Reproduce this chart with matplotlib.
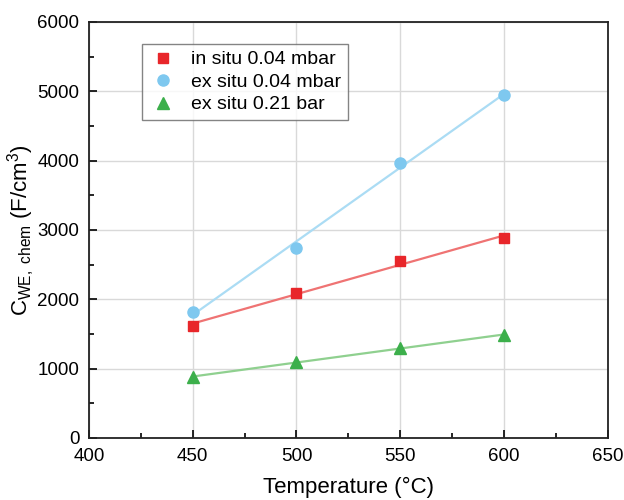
import numpy as np
import matplotlib
matplotlib.use("Agg")
import matplotlib.pyplot as plt
from matplotlib.ticker import MultipleLocator

plt.rcParams['font.family'] = ['Liberation Sans', 'DejaVu Sans']
plt.rcParams['mathtext.fontset'] = 'custom'
plt.rcParams['mathtext.rm'] = 'Liberation Sans'
plt.rcParams['mathtext.it'] = 'Liberation Sans'

temperature = [450, 500, 550, 600]
in_situ_004 = [1620, 2095, 2550, 2880]
ex_situ_004 = [1820, 2735, 3970, 4950]
ex_situ_021 = [885, 1090, 1295, 1490]
labels = ["in situ 0.04 mbar", "ex situ 0.04 mbar", "ex situ 0.21 bar"]

series = [
    (in_situ_004, 's', '#e8262a', '#ef7373', 7),
    (ex_situ_004, 'o', '#7ec8ef', '#abdcf4', 8),
    (ex_situ_021, '^', '#3caf4b', '#8fd08f', 8.5),
]

fig = plt.figure(figsize=(6.24, 5.0), dpi=100)
ax = fig.add_axes([0.1426, 0.124, 0.8314, 0.832])

x = np.array(temperature, dtype=float)
for (vals, mk, mc, lc, ms), lab in zip(series, labels):
    y = np.array(vals, dtype=float)
    p = np.polyfit(x, y, 1)
    ax.plot(x, np.polyval(p, x), color=lc, lw=1.6, zorder=2)
    ax.plot(x, y, linestyle='none', marker=mk, color=mc, ms=ms, mec=mc, label=lab, zorder=3)

ax.set_xlim(400, 650)
ax.set_ylim(0, 6000)
ax.xaxis.set_major_locator(MultipleLocator(50))
ax.xaxis.set_minor_locator(MultipleLocator(25))
ax.yaxis.set_major_locator(MultipleLocator(1000))
ax.yaxis.set_minor_locator(MultipleLocator(500))
ax.grid(True, which='major', color='#d9d9d9', lw=1.0, zorder=0)
ax.set_axisbelow(True)
ax.tick_params(which='both', direction='in', top=False, right=False, labelsize=13.5, width=1.2)
ax.tick_params(which='major', length=6)
ax.tick_params(which='minor', length=3.5)
ax.tick_params(axis='x', pad=7)
ax.tick_params(axis='y', pad=7)
for s in ax.spines.values():
    s.set_linewidth(1.3)
    s.set_color('#222222')

ax.set_xlabel('Temperature (°C)', fontsize=16, labelpad=9)
ax.set_ylabel(r'C$_{\mathrm{WE,\ chem}}$ (F/cm$^3$)', fontsize=16, labelpad=0)

leg = ax.legend(loc='upper left', bbox_to_anchor=(0.102, 0.947), borderaxespad=0,
                fontsize=14, frameon=True, fancybox=False, edgecolor='#666666',
                handletextpad=0.7, borderpad=0.35, labelspacing=0.25, handlelength=1.5)
leg.get_frame().set_linewidth(1.0)

fig.savefig('out.png', dpi=100)
